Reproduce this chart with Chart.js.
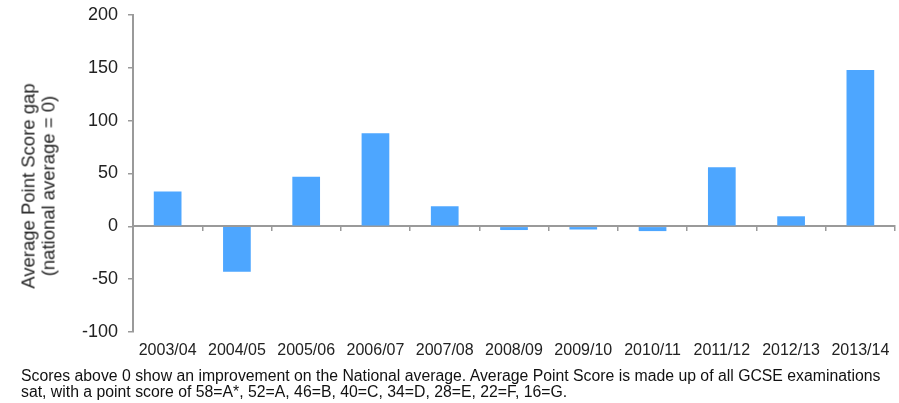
<!DOCTYPE html>
<html>
<head>
<meta charset="utf-8">
<script src="https://cdn.jsdelivr.net/npm/chart.js@4"></script>
<style>
  body { margin: 0; background: #fff; }
  #wrap { position: relative; width: 899px; height: 403px; }
  #yTitle {
    position: absolute; left: 38px; top: 186px;
    transform: translate(-50%, -50%) rotate(-90deg);
    font: 18.5px "Liberation Sans", Arial, sans-serif; line-height: 19.5px;
    color: #222; text-align: center; white-space: nowrap;
  }
  #note {
    position: absolute; left: 21px; top: 368px;
    font: 15.8px "Liberation Sans", Arial, sans-serif; line-height: 16.3px;
    color: #111; white-space: nowrap;
  }
</style>
</head>
<body>
<div id="wrap">
  <canvas id="gapChart" width="899" height="403"></canvas>
  <div id="yTitle">Average Point Score gap<br>(national average = 0)</div>
  <div id="note">Scores above 0 show an improvement on the National average. Average Point Score is made up of all GCSE examinations<br>sat, with a point score of 58=A*, 52=A, 46=B, 40=C, 34=D, 28=E, 22=F, 16=G.</div>
</div>
<script>
// SCORE GAP DATA
const years = ['2003/04', '2004/05', '2005/06', '2006/07', '2007/08', '2008/09', '2009/10', '2010/11', '2011/12', '2012/13', '2013/14'];
const scoreGap = [33, -43, 47, 88, 19, -3.5, -3, -4.5, 56, 9.5, 148];
const yTicks = [-100, -50, 0, 50, 100, 150, 200];

const axisGrey = '#9a9a9a';
const ctx = document.getElementById('gapChart').getContext('2d');

// tick padding would otherwise be added around the plot area
const noScalePadding = (scale) => {
    scale.paddingLeft = 0;
    scale.paddingRight = 0;
    scale.paddingTop = 0;
    scale.paddingBottom = 0;
};

const gapChart = new Chart(ctx, {
    type: 'bar',
    data: {
        labels: years,
        datasets: [{
            label: 'Average Point Score gap',
            data: scoreGap,
            backgroundColor: 'rgb(77, 166, 255)',
            barPercentage: 0.4,
            categoryPercentage: 1,
        }]
    },
    options: {
        responsive: false,
        animation: false,
        layout: {
            padding: { top: 15, right: 4, bottom: 71, left: 0 }
        },
        scales: {
            x: {
                // axis line sits on zero, labels pushed down to the bottom
                position: { y: 0 },
                afterFit: noScalePadding,
                border: { color: axisGrey, width: 2 },
                grid: {
                    drawOnChartArea: false,
                    color: axisGrey,
                    lineWidth: 1.5,
                    tickLength: 4,
                },
                ticks: {
                    color: '#222',
                    padding: 111,
                    maxRotation: 0,
                    font: { family: 'Liberation Sans', size: 16 },
                },
            },
            y: {
                min: -100,
                max: 200,
                afterBuildTicks: (scale) => {
                    scale.ticks = yTicks.map(v => ({ value: v }));
                },
                afterFit: (scale) => {
                    noScalePadding(scale);
                    scale.width = 133;
                },
                border: { color: axisGrey, width: 2 },
                grid: {
                    drawOnChartArea: false,
                    color: axisGrey,
                    lineWidth: 1.5,
                    tickLength: 5,
                },
                ticks: {
                    color: '#222',
                    padding: 10,
                    font: { family: 'Liberation Sans', size: 18 },
                },
            },
        },
        plugins: {
            legend: { display: false },
            tooltip: { enabled: false },
        }
    }
});
</script>
</body>
</html>
